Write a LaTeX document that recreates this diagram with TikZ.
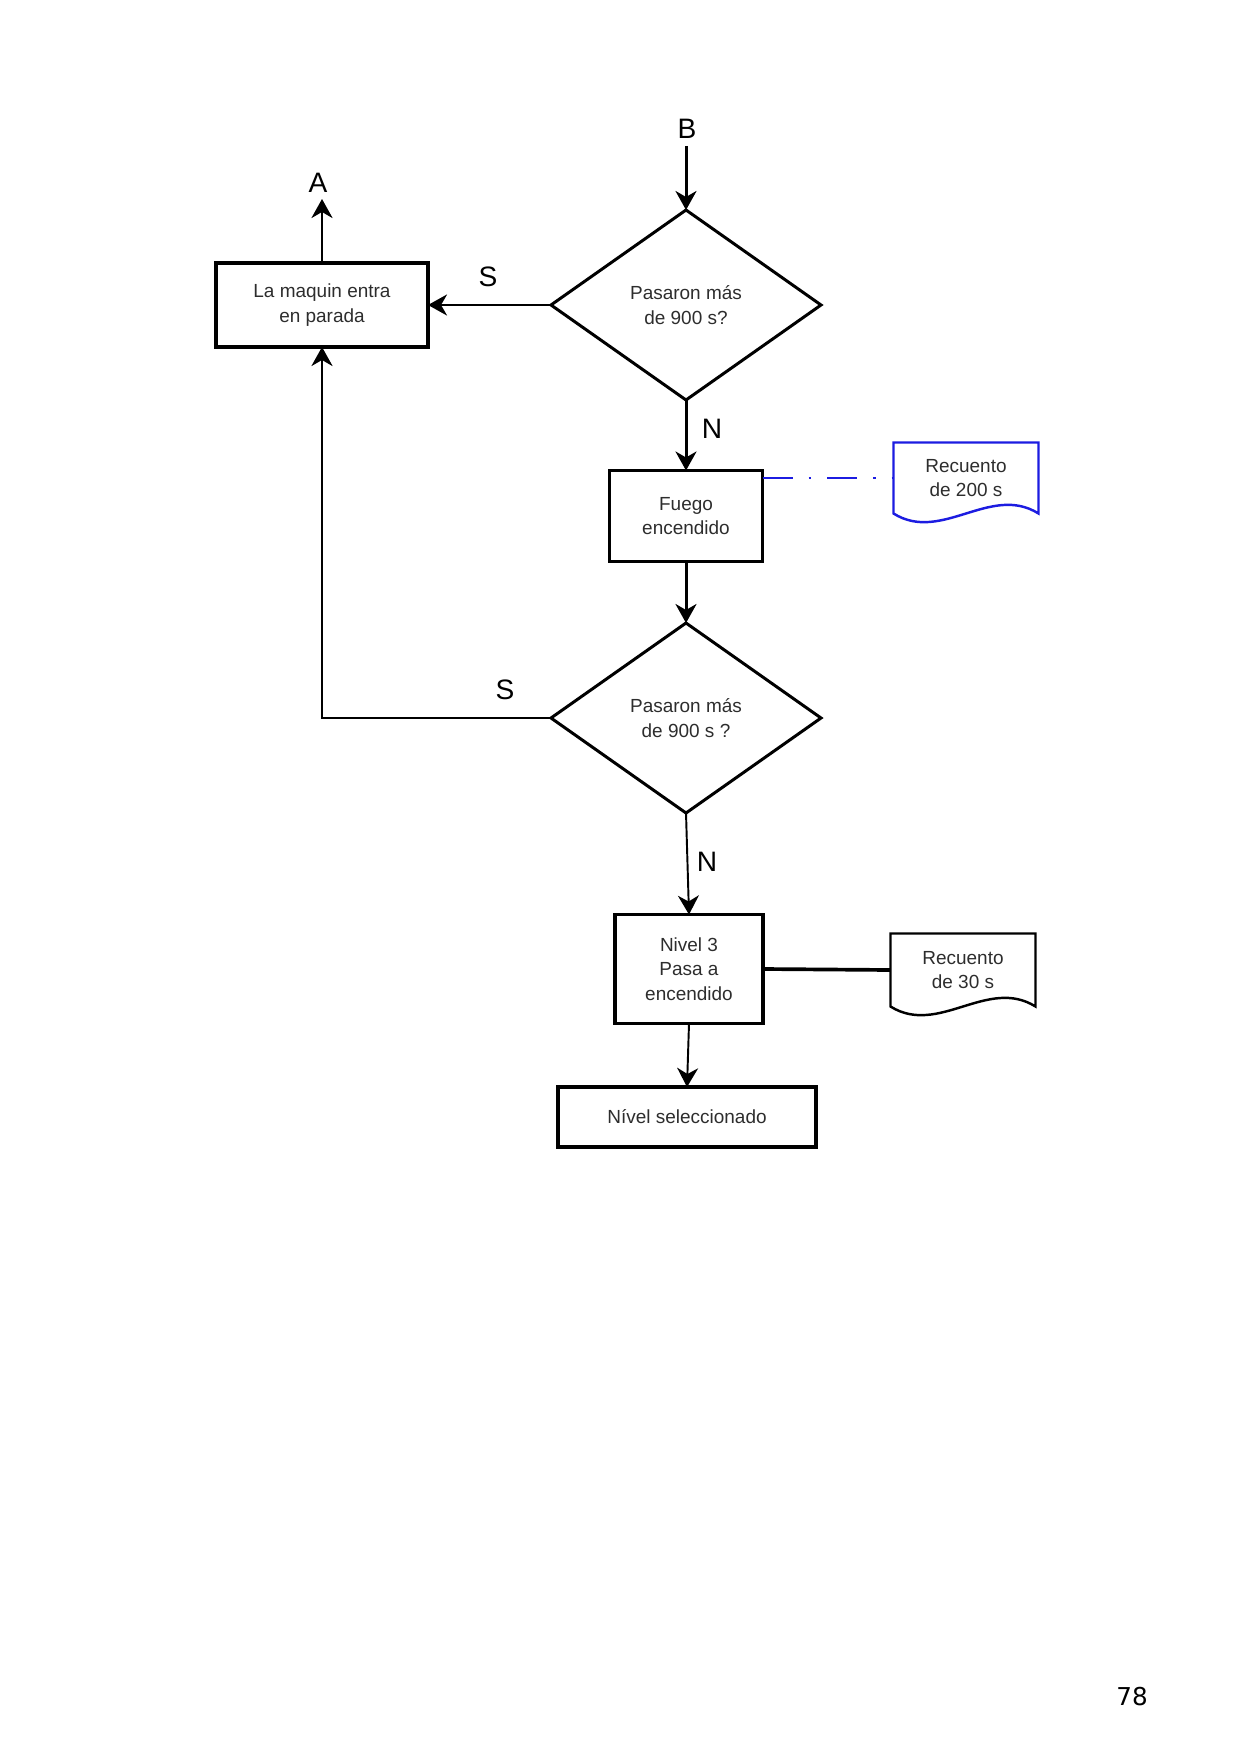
\documentclass[tikz,border=0pt]{standalone}
\usepackage{fontspec}
\setmainfont{Liberation Sans}
\newfontfamily\pagefont{DejaVu Sans}
\usetikzlibrary{shapes.geometric,arrows.meta}
\definecolor{docblue}{RGB}{28,28,225}
\definecolor{boxtext}{RGB}{45,45,45}

\begin{document}
\begin{tikzpicture}[x=0.2mm,y=-0.2mm,
  proc/.style={draw,line width=2.1pt,align=center,text=boxtext,inner sep=0pt,outer sep=0pt,font=\fontsize{10.8}{14}\selectfont},
  decision/.style={diamond,draw,line width=1.7pt,align=center,text=boxtext,inner sep=0pt,outer sep=0pt,minimum width=54mm,minimum height=38mm,font=\fontsize{10.8}{14}\selectfont},
  docnode/.style={align=center,text=boxtext,inner sep=0pt,outer sep=0pt,minimum width=29mm,font=\fontsize{10.8}{14}\selectfont},
  flow/.style={line width=1.7pt,-{Stealth[length=3.8mm,width=4.2mm,inset=1.2mm]}},
  thinflow/.style={line width=1.1pt,-{Stealth[length=3.8mm,width=4.2mm,inset=1.2mm]}},
  tag/.style={font=\fontsize{16}{16}\selectfont}]
  \useasboundingbox (0,0) rectangle (1240,1752);

  % steps of the flow
  \node[decision] (q1) at (686,305) {Pasaron más\\de 900 s?};
  \node[proc,minimum width=42.4mm,minimum height=16.8mm] (stop) at (322,305) {La maquin entra\\en parada};
  \node[proc,minimum width=30.6mm,minimum height=18.2mm] (fire) at (686,516) {Fuego\\encendido};
  \node[decision] (q2) at (686,718) {Pasaron más\\de 900 s ?};
  \node[proc,minimum width=29.6mm,minimum height=21.8mm] (lvl3) at (689,969) {Nivel 3\\Pasa a\\encendido};
  \node[proc,minimum width=51.6mm,minimum height=12mm] (lvlsel) at (687,1117) {Nível seleccionado};

  % counters
  \node[docnode,minimum height=14.2mm] (cnt200) at (966,478) {Recuento\\de 200 s};
  \node[docnode,minimum height=14.6mm] (cnt30) at (963,970) {Recuento\\de 30 s};
  \draw[docblue,line width=1.4pt] (cnt200.north west) -- (cnt200.north east) -- (cnt200.south east)
    .. controls +(-9.6mm,6mm) and +(9.6mm,-6mm) .. (cnt200.south west) -- cycle;
  \draw[line width=1.4pt] (cnt30.north west) -- (cnt30.north east) -- (cnt30.south east)
    .. controls +(-9.6mm,6mm) and +(9.6mm,-6mm) .. (cnt30.south west) -- cycle;

  % connectors
  \node[tag] (lblB) at (687,129) {B};
  \node[tag] (lblA) at (318,183) {A};
  \coordinate (inB) at (686,146);
  \coordinate (outA) at (322,199);
  \draw[flow] (inB) -- (q1.north);
  \draw[flow] (stop.north) -- (outA);
  \draw[flow] (q1.west) -- (stop.east);
  \node[tag] (s1) at (488,277) {S};
  \draw[flow] (q1.south) -- (fire.north);
  \node[tag] (n1) at (712,429) {N};
  \draw[docblue,line width=1.6pt,dash pattern=on 6mm off 3.2mm on 0.5mm off 3.2mm] (fire.east |- cnt200.west) -- (cnt200.west);
  \draw[flow] (fire.south) -- (q2.north);
  \draw[flow] (q2.west) -| (stop.south);
  \node[tag] (s2) at (505,690) {S};
  \draw[thinflow] (q2.south) -- (lvl3.north);
  \node[tag] (n2) at (707,862) {N};
  \draw[line width=2.1pt] (lvl3.east) -- (cnt30.west);
  \draw[thinflow] (lvl3.south) -- (lvlsel.north);

  \node[font=\pagefont\fontsize{14}{14}\selectfont] (pagenum) at (1132,1697) {78};
\end{tikzpicture}
\end{document}
